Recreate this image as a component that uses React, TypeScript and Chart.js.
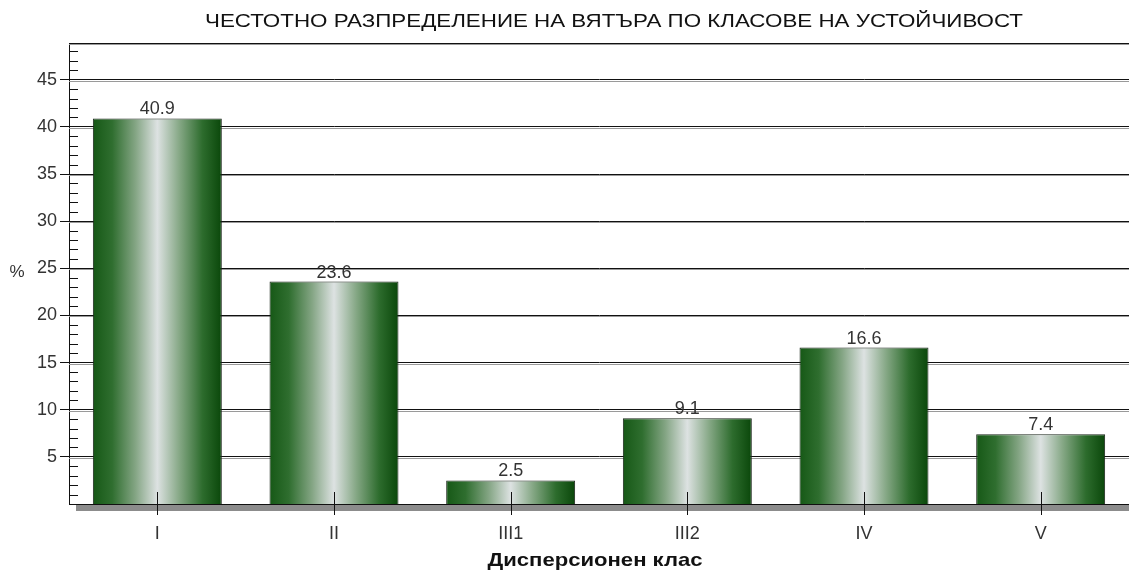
import React, { useEffect, useRef } from "react";
import { Chart, registerables } from "chart.js";

Chart.register(...registerables);

const chartTitle = "ЧЕСТОТНО РАЗПРЕДЕЛЕНИЕ НА ВЯТЪРА ПО КЛАСОВЕ НА УСТОЙЧИВОСТ";
const xTitle = "Дисперсионен клас";
const yTitle = "%";
const categories = ["I", "II", "III1", "III2", "IV", "V"];
const values = [40.9, 23.6, 2.5, 9.1, 16.6, 7.4];
const yTickValues = [5, 10, 15, 20, 25, 30, 35, 40, 45];
const yMax = 48.9;

const FONT = "'Liberation Sans', Arial, sans-serif";
const BAR_PCT = 0.73;

function stretchedText(ctx: any, text: string, cx: number, cy: number, targetW: number) {
  const w = ctx.measureText(text).width;
  const s = targetW / w;
  ctx.save();
  ctx.translate(cx, cy);
  ctx.scale(s, 1);
  ctx.textAlign = "center";
  ctx.textBaseline = "middle";
  ctx.fillText(text, 0, 0);
  ctx.restore();
}

const decor = {
  id: "decor",
  beforeDatasetsDraw(chart: any) {
    const ctx = chart.ctx;
    const { left, right, top } = chart.chartArea;
    const ys = chart.scales.y;
    ctx.save();
    ctx.strokeStyle = "#9a9a9a";
    ctx.lineWidth = 1;
    for (const v of yTickValues) {
      const py = Math.round(ys.getPixelForValue(v)) + 1.5;
      ctx.beginPath();
      ctx.moveTo(left, py);
      ctx.lineTo(right, py);
      ctx.stroke();
    }
    ctx.strokeStyle = "#111";
    ctx.beginPath();
    ctx.moveTo(left, top + 0.5);
    ctx.lineTo(right, top + 0.5);
    ctx.stroke();
    ctx.strokeStyle = "#9a9a9a";
    ctx.beginPath();
    ctx.moveTo(left, top + 1.5);
    ctx.lineTo(right, top + 1.5);
    ctx.stroke();
    ctx.restore();
  },
  afterDatasetsDraw(chart: any) {
    const ctx = chart.ctx;
    const { left, right, bottom } = chart.chartArea;
    const ys = chart.scales.y;
    const xs = chart.scales.x;
    ctx.save();
    ctx.fillStyle = "#8c8c8c";
    ctx.fillRect(left + 7, bottom + 1, right - left - 7, 6);
    ctx.strokeStyle = "#111";
    ctx.lineWidth = 1;
    ctx.beginPath();
    ctx.moveTo(left, bottom + 0.5);
    ctx.lineTo(right, bottom + 0.5);
    ctx.stroke();
    for (let v = 1; v < yMax; v++) {
      if (v % 5 === 0) continue;
      const py = Math.round(ys.getPixelForValue(v)) + 0.5;
      ctx.beginPath();
      ctx.moveTo(left, py);
      ctx.lineTo(left + 9, py);
      ctx.stroke();
    }
    for (let i = 0; i < categories.length; i++) {
      const px = Math.round(xs.getPixelForValue(i)) + 0.5;
      ctx.beginPath();
      ctx.moveTo(px, bottom - 12);
      ctx.lineTo(px, bottom + 11);
      ctx.stroke();
    }
    const meta = chart.getDatasetMeta(0);
    ctx.fillStyle = "#333";
    ctx.font = `18px ${FONT}`;
    ctx.textAlign = "center";
    ctx.textBaseline = "alphabetic";
    meta.data.forEach((el: any, i: number) => {
      ctx.fillText(values[i].toFixed(1), el.x, el.y - 4);
    });
    ctx.restore();
  },
  afterDraw(chart: any) {
    const ctx = chart.ctx;
    ctx.save();
    ctx.fillStyle = "#111";
    ctx.font = `19px ${FONT}`;
    stretchedText(ctx, chartTitle, 614, 22, 818);
    ctx.font = `bold 19px ${FONT}`;
    stretchedText(ctx, xTitle, 595, 561, 215);
    ctx.fillStyle = "#333";
    ctx.font = `17px ${FONT}`;
    ctx.textAlign = "center";
    ctx.textBaseline = "middle";
    ctx.fillText(yTitle, 17, 272);
    ctx.restore();
  },
};

function barGradient(c: any) {
  const chart = c.chart;
  if (!chart.chartArea || c.dataIndex === undefined) return "#2a6a2a";
  const xs = chart.scales.x;
  const cx = xs.getPixelForValue(c.dataIndex);
  const w = (xs.width / categories.length) * BAR_PCT;
  const g = chart.ctx.createLinearGradient(cx - w / 2, 0, cx + w / 2, 0);
  g.addColorStop(0, "#165816");
  g.addColorStop(0.15, "#2f6e2f");
  g.addColorStop(0.33, "#84a584");
  g.addColorStop(0.5, "#dde2e2");
  g.addColorStop(0.67, "#86a886");
  g.addColorStop(0.85, "#2d6c2d");
  g.addColorStop(1, "#0a470a");
  return g;
}

export default function App() {
  const ref = useRef<HTMLCanvasElement | null>(null);
  useEffect(() => {
    if (!ref.current) return;
    const chart = new Chart(ref.current, {
      type: "bar",
      data: {
        labels: categories,
        datasets: [
          {
            data: values,
            backgroundColor: barGradient,
            borderColor: "#1c261c",
            borderWidth: { top: 1, left: 1, right: 1, bottom: 0 },
            borderSkipped: false,
            barPercentage: BAR_PCT,
            categoryPercentage: 1,
          },
        ],
      },
      options: {
        responsive: false,
        animation: false,
        layout: { padding: { top: 43, left: 0, right: 0, bottom: 0 } },
        plugins: {
          legend: { display: false },
          title: { display: false },
          tooltip: { enabled: false },
        },
        scales: {
          x: {
            type: "category",
            afterFit: (s: any) => {
              s.height = 71;
            },
            grid: { display: false },
            border: { display: true, color: "#111", width: 1 },
            ticks: {
              color: "#333",
              font: { family: FONT, size: 18 },
              padding: 11,
              maxRotation: 0,
            },
            title: { display: false },
          },
          y: {
            min: 0,
            max: yMax,
            afterFit: (s: any) => {
              s.width = 69;
            },
            afterBuildTicks: (s: any) => {
              s.ticks = yTickValues.map((v) => ({ value: v }));
            },
            grid: {
              color: "#111",
              lineWidth: 1,
              tickLength: 9,
              drawTicks: true,
            },
            border: { display: true, color: "#111", width: 1 },
            ticks: {
              color: "#333",
              font: { family: FONT, size: 18 },
              padding: 3,
            },
          },
        },
      },
      plugins: [decor],
    });
    return () => chart.destroy();
  }, []);
  return (
    <div
      style={{
        position: "absolute",
        left: 0,
        top: 0,
        width: 1129,
        height: 575,
        background: "#fff",
      }}
    >
      <canvas ref={ref} width={1129} height={575} style={{ display: "block" }} />
    </div>
  );
}
